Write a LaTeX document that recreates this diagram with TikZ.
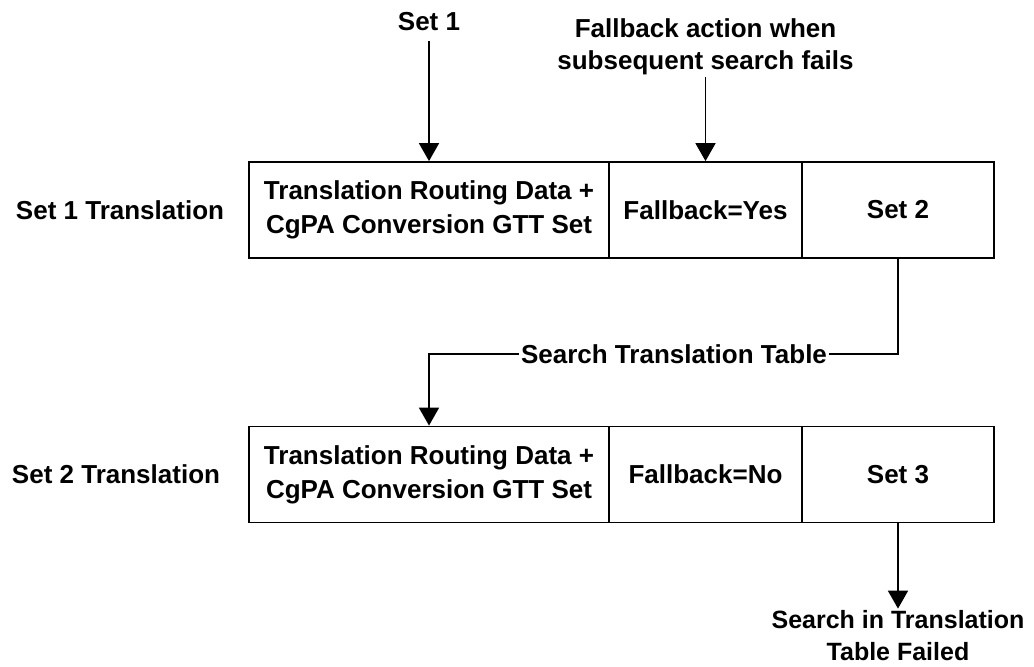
\documentclass[tikz,border=0pt]{standalone}
\usepackage{fontspec}
\setmainfont{Liberation Sans}
\usetikzlibrary{arrows.meta}

\begin{document}
\begin{tikzpicture}[x=1pt,y=-1pt,font=\bfseries\fontsize{26}{34}\selectfont]
	\tikzstyle{cellule}=[rectangle,draw,line width=1.8pt,inner sep=0pt,minimum height=96pt,align=center]
	\tikzstyle{etiquette}=[inner sep=2pt,align=center]
	\tikzstyle{trait}=[line width=1.8pt]
	\tikzstyle{fleche}=[line width=1.8pt,-{Triangle[width=20pt,length=18pt]}]
	\useasboundingbox (0,0) rectangle (1034,667);
	% premiere ligne
	\node[cellule,minimum width=360pt] (A) at (429,210){Translation Routing Data +\\CgPA Conversion GTT Set};
	\node[cellule,minimum width=193pt] (B) at (705.5,210){Fallback=Yes};
	\node[cellule,minimum width=192pt] (C) at (898,210){Set 2};
	% deuxieme ligne
	\node[cellule,minimum width=360pt] (D) at (429,474.5){Translation Routing Data +\\CgPA Conversion GTT Set};
	\node[cellule,minimum width=193pt] (E) at (705.5,474.5){Fallback=No};
	\node[cellule,minimum width=192pt] (F) at (898,474.5){Set 3};
	% etiquettes
	\node[etiquette] (G) at (120,210){Set 1 Translation};
	\node[etiquette] (H) at (116,474){Set 2 Translation};
	\node[etiquette] (I) at (429,22){Set 1};
	\node[etiquette,font=\bfseries\fontsize{26}{32}\selectfont] (J) at (705.5,47){Fallback action when\\subsequent search fails};
	\node[etiquette] (K) at (674,354){Search Translation Table};
	\node[etiquette,font=\bfseries\fontsize{25}{32}\selectfont] (L) at (898,636){Search in Translation\\Table Failed};
	% fleches
	\draw[fleche,shorten <=8pt] (I.south) -- (A.north);
	\draw[fleche] (J.south) -- (B.north);
	\draw[trait] (C.south) |- (K.east);
	\draw[fleche] (K.west) -| (D.north);
	\draw[fleche] (F.south) -- (L.north);
\end{tikzpicture}
\end{document}
